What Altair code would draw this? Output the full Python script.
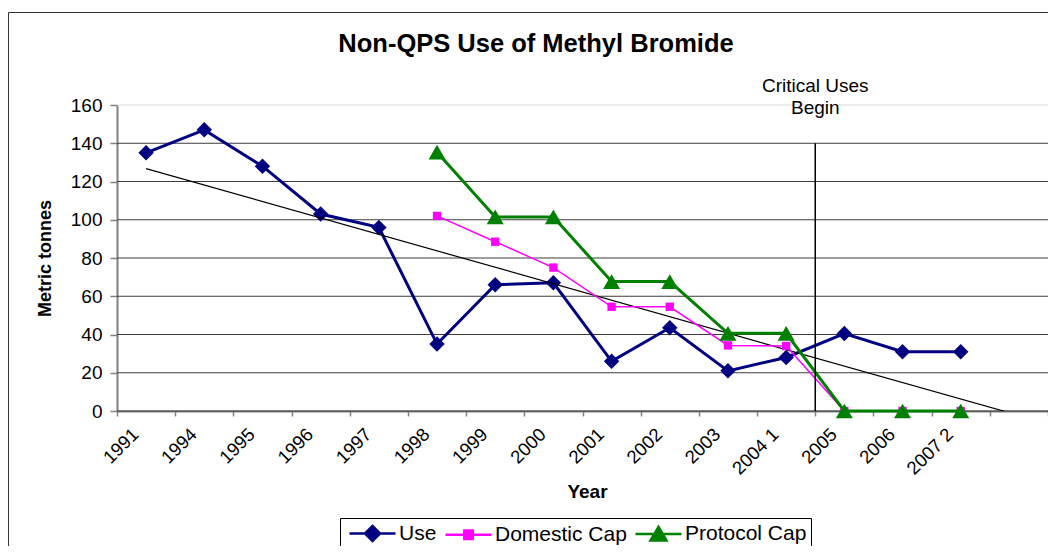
import altair as alt
import pandas as pd

# ---------------- data ----------------
categories = ["1991", "1994", "1995", "1996", "1997", "1998", "1999", "2000",
              "2001", "2002", "2003", "2004 1", "2005", "2006", "2007 2"]
use_values = [135, 147, 128, 103, 96, 35, 66, 67, 26, 43.5, 21, 28, 40.5, 31, 31]
cap_categories = ["1998", "1999", "2000", "2001", "2002", "2003", "2004 1",
                  "2005", "2006", "2007 2"]
domestic_cap = [102, 88.5, 75, 54.5, 54.5, 34.3, 34, 0, 0, 0]
protocol_cap = [135.3, 101.5, 101.5, 67.7, 67.7, 40.6, 40.6, 0, 0, 0]
series_names = ["Use", "Domestic Cap", "Protocol Cap"]
series_colors = ["#000080", "#FF00FF", "#008000"]
y_ticks = [0, 20, 40, 60, 80, 100, 120, 140, 160]
n_slots = 16
critical_after = "2004 1"
critical_top = 140
critical_label = ["Critical Uses", "Begin"]
title_text = "Non-QPS Use of Methyl Bromide"
x_title = "Year"
y_title = "Metric tonnes"

# ---------------- tables ----------------
pos = {c: i for i, c in enumerate(categories)}
rows = []
for c, v in zip(categories, use_values):
    rows.append({"Series": "Use", "idx": pos[c], "value": v})
for c, v in zip(cap_categories, domestic_cap):
    rows.append({"Series": "Domestic Cap", "idx": pos[c], "value": v})
for c, v in zip(cap_categories, protocol_cap):
    rows.append({"Series": "Protocol Cap", "idx": pos[c], "value": v})
df = pd.DataFrame(rows)

grid_df = pd.DataFrame({"value": y_ticks})
crit_df = pd.DataFrame({"idx": [pos[critical_after] + 0.5], "value": [0],
                        "value2": [critical_top]})
one = pd.DataFrame({"a": [0]})

FONT = "Liberation Sans"
PW, PH = 931, 306
PAD_L, PAD_T, PAD_B = 109, 97, 135

label_list = categories + [""] * (n_slots + 1 - len(categories))
label_js = "[" + ",".join("'" + s + "'" for s in label_list) + "]"
boundaries = [i - 0.5 for i in range(n_slots + 1)]

x_axis = alt.Axis(values=boundaries, labelExpr=label_js + "[round(datum.value + 0.5)]",
                  grid=False, labelAngle=-45, labelAlign="right", labelBaseline="middle",
                  labelOffset=18, labelPadding=15, labelFlush=False, labelOverlap=False,
                  labelBound=False, labelFont=FONT, labelFontSize=18.5, labelColor="black",
                  tickSize=5, tickColor="#808080", tickWidth=1.5,
                  domainColor="#808080", domainWidth=2,
                  title=x_title, titleFont=FONT, titleFontSize=19, titleFontWeight="bold",
                  titleColor="black", titleX=470, titleY=80, titleAlign="center",
                  titleBaseline="middle")
y_axis = alt.Axis(values=y_ticks, grid=False, labelFont=FONT, labelFontSize=19,
                  labelColor="black", labelPadding=8, tickSize=7, tickColor="#808080",
                  tickWidth=1.5, domainColor="#808080", domainWidth=2,
                  title=y_title, titleFont=FONT, titleFontSize=18, titleFontWeight="bold",
                  titleColor="black", titleX=-72, titleY=153, titleAlign="center",
                  titleBaseline="middle", titleAngle=270)

x_enc = alt.X("idx:Q", scale=alt.Scale(domain=[-0.5, n_slots - 0.5], nice=False, zero=False),
              axis=x_axis)
y_enc = alt.Y("value:Q", scale=alt.Scale(domain=[0, 160], nice=False), axis=y_axis)

grid = alt.Chart(grid_df).mark_rule(strokeWidth=1).encode(
    y=y_enc,
    color=alt.condition(alt.datum.value == 160, alt.value("#dcdcdc"), alt.value("#3c3c3c")),
)

crit_rule = alt.Chart(crit_df).mark_rule(color="black", strokeWidth=1.5).encode(
    x=x_enc, y=y_enc, y2="value2:Q")
crit_text = alt.Chart(crit_df).mark_text(
    text=critical_label, font=FONT, fontSize=19, color="black", baseline="top",
    align="center", lineHeight=22).encode(x=x_enc, y=alt.value(-28))

trend = alt.Chart(df).transform_filter(alt.datum.Series == "Use").transform_regression(
    "idx", "value", extent=[0, n_slots - 0.5]).mark_line(
    color="black", strokeWidth=1.2, clip=True).encode(x=x_enc, y=y_enc)

styles = {
    "Use": dict(width=3, shape="diamond", size=240),
    "Domestic Cap": dict(width=1.5, shape="square", size=70),
    "Protocol Cap": dict(width=3, shape="triangle-up", size=290),
}

layers = [grid]
for name, color in zip(series_names, series_colors):
    st = styles[name]
    base = alt.Chart(df).transform_filter(alt.datum.Series == name)
    line = base.mark_line(color=color, strokeWidth=st["width"]).encode(x=x_enc, y=y_enc)
    pts = base.mark_point(filled=True, opacity=1, color=color, shape=st["shape"],
                          size=st["size"]).encode(x=x_enc, y=y_enc)
    layers += [line, pts]
    if name == "Use":
        layers.append(trend)

legend_paths = [
    "M-2.3,0H2.3M0,-0.75L0.75,0L0,0.75L-0.75,0Z",
    "M-2.3,0H2.3M-0.42,-0.42H0.42V0.42H-0.42Z",
    "M-2.3,0H2.3M0,-0.7L0.8,0.65H-0.8Z",
]
leg = alt.Legend(title=None, orient="none", legendX=223, legendY=413, direction="horizontal",
                 symbolSize=400, symbolStrokeWidth=2.5, symbolOffset=17,
                 labelFont=FONT, labelFontSize=21, labelColor="black", labelOffset=15,
                 columnPadding=3, padding=4, strokeColor="black", fillColor="white")
legend_layer = alt.Chart(pd.DataFrame({"Series": series_names})).transform_filter(
    "false").mark_point(filled=True, opacity=1).encode(
    fill=alt.Fill("Series:N", scale=alt.Scale(domain=series_names, range=series_colors),
                  legend=leg),
    stroke=alt.Stroke("Series:N", scale=alt.Scale(domain=series_names, range=series_colors),
                      legend=leg),
    shape=alt.Shape("Series:N", scale=alt.Scale(domain=series_names, range=legend_paths),
                    legend=leg),
)

title_layer = alt.Chart(one).mark_text(
    text=title_text, font=FONT, fontSize=25.5, fontWeight="bold", color="black",
    align="center", baseline="alphabetic").encode(x=alt.value(419), y=alt.value(-53))

frame_left = alt.Chart(one).mark_rule(color="#333333", strokeWidth=1).encode(
    x=alt.value(-108.5), y=alt.value(-92.5), y2=alt.value(PH + PAD_B))
frame_top = alt.Chart(one).mark_rule(color="#333333", strokeWidth=1).encode(
    x=alt.value(-108.5), x2=alt.value(PW), y=alt.value(-92.5))

layers += [crit_rule, crit_text, legend_layer, title_layer, frame_left, frame_top]

chart = alt.layer(*layers).properties(
    width=PW, height=PH,
    padding={"left": PAD_L, "top": PAD_T, "right": 0, "bottom": PAD_B},
    autosize=alt.AutoSizeParams(type="none"),
    background="white",
).configure_view(strokeWidth=0)

chart.save("out.html", embed_options={"renderer": "svg", "actions": False})
